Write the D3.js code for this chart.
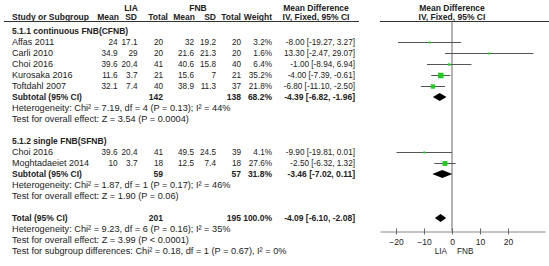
<!DOCTYPE html>
<html>
<head>
<meta charset="utf-8">
<script src="https://cdn.jsdelivr.net/npm/d3@7"></script>
<style>
  body { margin: 0; background: #fff; }
  svg text { font-family: "Liberation Sans", Arial, sans-serif; font-size: 9.2px; fill: #222; }
  svg text.b { font-weight: bold; font-size: 8.5px; }
  svg text.n { font-size: 8.2px; }
  svg text.s { font-size: 9px; }
</style>
</head>
<body>
<div id="chart"></div>
<script>
// du lieu cac nghien cuu (doc tu hinh)
const studyNames = ["Affas 2011", "Carli 2010", "Choi 2016", "Kurosaka 2016", "Toftdahl 2007", "Choi 2016", "Moghtadaeiet 2014"];
const studyGroup = [0, 0, 0, 0, 0, 1, 1];
const liaMean = ["24", "34.9", "39.6", "11.6", "32.1", "39.6", "10"];
const liaSD = ["17.1", "29", "20.4", "3.7", "7.4", "20.4", "3.7"];
const liaTotal = [20, 20, 41, 21, 40, 41, 18];
const fnbMean = ["32", "21.6", "40.6", "15.6", "38.9", "49.5", "12.5"];
const fnbSD = ["19.2", "21.3", "15.8", "7", "11.3", "24.5", "7.4"];
const fnbTotal = [20, 20, 40, 21, 37, 39, 18];
const weights = [3.2, 1.6, 6.4, 35.2, 21.8, 4.1, 27.6];
const md = [-8.00, 13.30, -1.00, -4.00, -6.80, -9.90, -2.50];
const ciLow = [-19.27, -2.47, -8.94, -7.39, -11.10, -19.81, -6.32];
const ciHigh = [3.27, 29.07, 6.94, -0.61, -2.50, 0.01, 1.32];

// nhom con + tong
const groupNames = ["5.1.1 continuous FNB(CFNB)", "5.1.2 single FNB(SFNB)"];
const subLiaTotal = [142, 59];
const subFnbTotal = [138, 57];
const subWeight = [68.2, 31.8];
const subMd = [-4.39, -3.46];
const subLow = [-6.82, -7.02];
const subHigh = [-1.96, 0.11];
const subHetero = [
  "Heterogeneity: Chi\u00b2 = 7.19, df = 4 (P = 0.13); I\u00b2 = 44%",
  "Heterogeneity: Chi\u00b2 = 1.87, df = 1 (P = 0.17); I\u00b2 = 46%"
];
const subEffect = [
  "Test for overall effect: Z = 3.54 (P = 0.0004)",
  "Test for overall effect: Z = 1.90 (P = 0.06)"
];
const total = { lia: 201, fnb: 195, weight: 100.0, md: -4.09, lo: -6.10, hi: -2.08 };
const totalNotes = [
  "Heterogeneity: Chi\u00b2 = 9.23, df = 6 (P = 0.16); I\u00b2 = 35%",
  "Test for overall effect: Z = 3.99 (P < 0.0001)",
  "Test for subgroup differences: Chi\u00b2 = 0.18, df = 1 (P = 0.67), I\u00b2 = 0%"
];
const tickValues = [-20, -10, 0, 10, 20];

const W = 549, H = 266;
const svg = d3.select("#chart").append("svg").attr("width", W).attr("height", H);

// cot bang (canh phai)
const col = { name: 12, liaMean: 117.5, liaSD: 137.5, liaTotal: 163, fnbMean: 194, fnbSD: 216, fnbTotal: 241, weight: 272, ci: 355 };
const rowY = i => 31 + 11 * i;

const x = d3.scaleLinear().domain([-25.7, 33.2]).range([380, 545]);
const sqSize = d3.scaleSqrt().domain([0, 35.2]).range([0, 5.5]);
const fmtCI = (m, l, h) => `${m.toFixed(2)} [${l.toFixed(2)}, ${h.toFixed(2)}]`;

function txt(xp, y, s, anchor = "start", cls = null) {
  svg.append("text")
    .attr("x", xp).attr("y", y).attr("dy", "0.35em")
    .attr("text-anchor", anchor)
    .attr("class", cls)
    .text(s);
}

// --- tieu de ---
txt(131, 8, "LIA", "middle", "b");
txt(198, 8, "FNB", "middle", "b");
txt(316, 8, "Mean Difference", "middle", "b");
txt(x(0), 8, "Mean Difference", "middle", "b");
const y2 = 17.5;
txt(col.name, y2, "Study or Subgroup", "start", "b");
txt(119, y2, "Mean", "end", "b");
txt(137, y2, "SD", "end", "b");
txt(col.liaTotal + 5, y2, "Total", "end", "b");
txt(col.fnbMean + 1, y2, "Mean", "end", "b");
txt(col.fnbSD, y2, "SD", "end", "b");
txt(col.fnbTotal, y2, "Total", "end", "b");
txt(col.weight, y2, "Weight", "end", "b");
txt(316, y2, "IV, Fixed, 95% CI", "middle", "b");
txt(x(0), y2, "IV, Fixed, 95% CI", "middle", "b");

svg.append("line").attr("x1", 4).attr("x2", 359).attr("y1", 21.5).attr("y2", 21.5).attr("stroke", "#333");
svg.append("line").attr("x1", 380).attr("x2", 549).attr("y1", 21.5).attr("y2", 21.5).attr("stroke", "#333");

// duong so 0
svg.append("line")
  .attr("x1", x(0)).attr("x2", x(0)).attr("y1", 22).attr("y2", 231)
  .attr("stroke", "#9a9a9a").attr("stroke-width", 1.5);

function diamond(y, m, l, h) {
  svg.append("path")
    .attr("d", `M${x(l)},${y} L${x(m)},${y - 4} L${x(h)},${y} L${x(m)},${y + 4} Z`)
    .attr("fill", "#000");
}

// --- cac dong ---
let row = 0;
groupNames.forEach((g, gi) => {
  txt(col.name, rowY(row), g, "start", "b");
  row++;
  studyNames.forEach((s, i) => {
    if (studyGroup[i] !== gi) return;
    const y = rowY(row);
    txt(col.name, y, s, "start", "s");
    txt(col.liaMean, y, liaMean[i], "end", "n");
    txt(col.liaSD, y, liaSD[i], "end", "n");
    txt(col.liaTotal, y, liaTotal[i], "end", "n");
    txt(col.fnbMean, y, fnbMean[i], "end", "n");
    txt(col.fnbSD, y, fnbSD[i], "end", "n");
    txt(col.fnbTotal, y, fnbTotal[i], "end", "n");
    txt(col.weight, y, weights[i].toFixed(1) + "%", "end", "n");
    txt(col.ci, y, fmtCI(md[i], ciLow[i], ciHigh[i]), "end", "n");

    svg.append("line")
      .attr("x1", x(ciLow[i])).attr("x2", x(ciHigh[i]))
      .attr("y1", y + 0.5).attr("y2", y + 0.5)
      .attr("stroke", "#555");
    const s2 = Math.max(2, sqSize(weights[i]));
    svg.append("rect")
      .attr("x", x(md[i]) - s2 / 2).attr("y", y + 0.5 - s2 / 2)
      .attr("width", s2).attr("height", s2)
      .attr("fill", "#1fcc1f");
    row++;
  });
  const ys = rowY(row);
  txt(col.name, ys, "Subtotal (95% CI)", "start", "b");
  txt(col.liaTotal, ys, subLiaTotal[gi], "end", "b");
  txt(col.fnbTotal, ys, subFnbTotal[gi], "end", "b");
  txt(col.weight, ys, subWeight[gi].toFixed(1) + "%", "end", "b");
  txt(col.ci, ys, fmtCI(subMd[gi], subLow[gi], subHigh[gi]), "end", "b");
  diamond(ys, subMd[gi], subLow[gi], subHigh[gi]);
  row++;
  txt(col.name, rowY(row), subHetero[gi]); row++;
  txt(col.name, rowY(row), subEffect[gi]); row++;
  row++; // dong trong
});

// tong
const yt = rowY(row);
txt(col.name, yt, "Total (95% CI)", "start", "b");
txt(col.liaTotal, yt, total.lia, "end", "b");
txt(col.fnbTotal, yt, total.fnb, "end", "b");
txt(col.weight, yt, total.weight.toFixed(1) + "%", "end", "b");
txt(col.ci, yt, fmtCI(total.md, total.lo, total.hi), "end", "b");
diamond(yt, total.md, total.lo, total.hi);
row++;
totalNotes.forEach(t => { txt(col.name, rowY(row), t); row++; });

// truc X
const axisG = svg.append("g")
  .attr("transform", "translate(0,231.5)")
  .call(d3.axisBottom(x).tickValues(tickValues).tickSize(3).tickSizeOuter(0).tickPadding(4));
axisG.select(".domain").attr("stroke", "#888");
axisG.selectAll(".tick line").attr("y1", -3).attr("y2", 3).attr("stroke", "#666");
axisG.selectAll(".tick text")
  .style("font-family", "'Liberation Sans', Arial, sans-serif")
  .style("font-size", "8.5px").attr("fill", "#222");

svg.append("text").attr("class", "n").attr("x", x(0) - 5).attr("y", 251).attr("dy", "0.35em").attr("text-anchor", "end").text("LIA");
svg.append("text").attr("class", "n").attr("x", x(0) + 5).attr("y", 251).attr("dy", "0.35em").attr("text-anchor", "start").text("FNB");
</script>
</body>
</html>
